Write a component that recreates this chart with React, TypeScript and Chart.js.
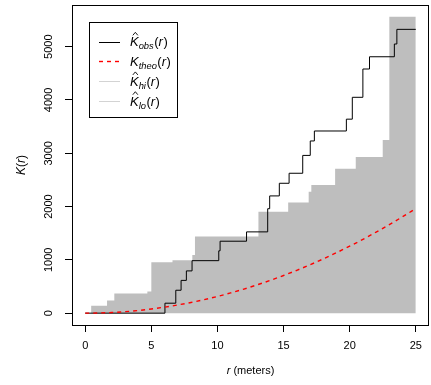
import React, { useEffect, useRef } from 'react';
import { Chart, registerables } from 'chart.js';
Chart.register(...registerables);

const FONT = '"Liberation Sans", Arial, Helvetica, sans-serif';

// observed K-hat (step function: r where value changes, new value)
const obsR = [0, 6.03, 6.85, 7.25, 7.65, 8.08, 10.1, 10.2, 12.2, 13.8, 13.95, 14.68, 15.42, 16.45, 17.02, 17.33, 19.75, 20.2, 21.0, 21.5, 23.38, 23.57, 25];
const obsK = [0, 187, 430, 615, 793, 985, 1170, 1350, 1525, 1960, 2200, 2437, 2625, 2960, 3231, 3418, 3640, 4050, 4581, 4811, 5050, 5325, 5325];

// upper envelope
const hiR = [0, 0.45, 1.65, 2.2, 4.7, 5.0, 6.6, 8.1, 8.3, 13.1, 15.35, 16.9, 17.1, 18.9, 20.46, 22.5, 23.0, 25];
const hiK = [0, 137, 236, 368, 405, 956, 994, 1090, 1440, 1905, 2078, 2280, 2406, 2710, 2930, 3249, 5560, 5560];

// lower envelope
const loR = [0, 25];
const loK = [0, 0];

// theoretical K
const theoR = [0, 1, 2, 3, 4, 5, 6, 7, 8, 9, 10, 11, 12, 13, 14, 15, 16, 17, 18, 19, 20, 21, 22, 23, 24, 25];
const theoK = [0, 3, 13, 28, 50, 79, 113, 154, 201, 254, 314, 380, 452, 531, 616, 707, 804, 908, 1018, 1134, 1257, 1385, 1521, 1662, 1810, 1963];

const xTicks = [0, 5, 10, 15, 20, 25];
const yTicks = [0, 1000, 2000, 3000, 4000, 5000];
const xRange = [-1, 26];
const yRange = [-222, 5782];

const legendMain = ['K', 'K', 'K', 'K'];
const legendSub = ['obs', 'theo', 'hi', 'lo'];
const legendHat = [true, false, true, true];
const legendColor = ['#000000', '#ff0000', '#d3d3d3', '#d3d3d3'];
const legendDash = [[], [4, 4], [], []];

const xTitle = '(meters)';
const xTitleVar = 'r';

const toPts = (xs: number[], ys: number[]) => xs.map((x, i) => ({ x, y: ys[i] }));

function drawMathK(ctx: CanvasRenderingContext2D, x: number, yMid: number, main: string, sub: string, hat: boolean, size: number) {
  const base = yMid + size * 0.36;
  ctx.textAlign = 'left';
  ctx.textBaseline = 'alphabetic';
  ctx.font = `italic ${size}px ${FONT}`;
  ctx.fillText(main, x, base);
  const kw = ctx.measureText(main).width;
  if (hat) {
    const cx = x + kw / 2 + 1;
    const top = base - size * 0.72;
    ctx.beginPath();
    ctx.lineWidth = 0.9;
    ctx.moveTo(cx - 2.5, top - 1.5);
    ctx.lineTo(cx, top - 4.5);
    ctx.lineTo(cx + 2.5, top - 1.5);
    ctx.stroke();
  }
  let cx = x + kw;
  const ss = size * 0.72;
  ctx.font = `italic ${ss}px ${FONT}`;
  ctx.fillText(sub, cx, base + size * 0.25);
  cx += ctx.measureText(sub).width + 0.5;
  ctx.font = `${size}px ${FONT}`;
  ctx.fillText('(', cx, base);
  cx += ctx.measureText('(').width;
  ctx.font = `italic ${size}px ${FONT}`;
  ctx.fillText('r', cx, base);
  cx += ctx.measureText('r').width + 0.5;
  ctx.font = `${size}px ${FONT}`;
  ctx.fillText(')', cx, base);
}

const decor = {
  id: 'decor',
  afterDraw(chart: any) {
    const ctx: CanvasRenderingContext2D = chart.ctx;
    const { left, right, top, bottom } = chart.chartArea;
    const xs = chart.scales.x;
    const ys = chart.scales.y;
    ctx.save();
    // plot box
    ctx.strokeStyle = '#000';
    ctx.lineWidth = 1;
    ctx.strokeRect(Math.round(left) + 0.5, Math.round(top) + 0.5, Math.round(right - left) - 1, Math.round(bottom - top));

    ctx.fillStyle = '#000';
    ctx.font = `11px ${FONT}`;
    ctx.textAlign = 'center';
    ctx.textBaseline = 'middle';
    xs.ticks.forEach((t: any) => {
      ctx.fillText(String(t.value), xs.getPixelForValue(t.value), bottom + 20.5);
    });
    ys.ticks.forEach((t: any) => {
      const py = ys.getPixelForValue(t.value);
      ctx.save();
      ctx.translate(49, py);
      ctx.rotate(-Math.PI / 2);
      ctx.fillText(String(t.value), 0, 0);
      ctx.restore();
    });

    // x title
    ctx.font = `italic 11px ${FONT}`;
    const wv = ctx.measureText(xTitleVar + ' ').width;
    ctx.font = `11px ${FONT}`;
    const wt = ctx.measureText(xTitle).width;
    const xc = (left + right) / 2;
    const x0 = xc - (wv + wt) / 2;
    ctx.textAlign = 'left';
    ctx.font = `italic 11px ${FONT}`;
    ctx.fillText(xTitleVar, x0, bottom + 46);
    ctx.font = `11px ${FONT}`;
    ctx.fillText(xTitle, x0 + wv, bottom + 46);

    // y title K(r)
    ctx.save();
    ctx.translate(22, (top + bottom) / 2);
    ctx.rotate(-Math.PI / 2);
    ctx.textBaseline = 'middle';
    ctx.font = `italic 12px ${FONT}`;
    const parts: [string, boolean][] = [['K', true], ['(', false], ['r', true], [')', false]];
    let tw = 0;
    parts.forEach(([s, it]) => { ctx.font = `${it ? 'italic ' : ''}12px ${FONT}`; tw += ctx.measureText(s).width; });
    let px = -tw / 2;
    parts.forEach(([s, it]) => {
      ctx.font = `${it ? 'italic ' : ''}12px ${FONT}`;
      ctx.fillText(s, px, 0);
      px += ctx.measureText(s).width;
    });
    ctx.restore();

    // legend
    const lx = 89, ly = 22, lw = 88, lh = 95;
    ctx.fillStyle = '#fff';
    ctx.fillRect(lx, ly, lw, lh);
    ctx.strokeStyle = '#000';
    ctx.lineWidth = 1;
    ctx.strokeRect(lx + 0.5, ly + 0.5, lw, lh);
    legendSub.forEach((sub, i) => {
      const y = 41.5 + i * 19.8;
      ctx.beginPath();
      ctx.strokeStyle = legendColor[i];
      ctx.lineWidth = i === 1 ? 1.4 : 1;
      ctx.setLineDash(legendDash[i]);
      ctx.moveTo(99, Math.round(y) + 0.5);
      ctx.lineTo(120, Math.round(y) + 0.5);
      ctx.stroke();
      ctx.setLineDash([]);
      ctx.fillStyle = '#000';
      ctx.strokeStyle = '#000';
      drawMathK(ctx, 130, y, legendMain[i], sub, legendHat[i], 13);
    });
    ctx.restore();
  },
};

export default function App() {
  const ref = useRef<HTMLCanvasElement | null>(null);
  useEffect(() => {
    document.body.style.margin = '0';
    const canvas = ref.current;
    if (!canvas) return;
    const chart = new Chart(canvas, {
      type: 'line',
      data: {
        datasets: [
          {
            label: 'theo',
            data: toPts(theoR, theoK),
            borderColor: '#ff0000',
            borderWidth: 1.4,
            borderDash: [4, 4],
            pointRadius: 0,
            fill: false,
            cubicInterpolationMode: 'monotone',
          },
          {
            label: 'obs',
            data: toPts(obsR, obsK),
            borderColor: '#000000',
            borderWidth: 1,
            pointRadius: 0,
            stepped: 'before',
            fill: false,
          },
          {
            label: 'hi',
            data: toPts(hiR, hiK),
            borderColor: 'rgba(0,0,0,0)',
            borderWidth: 0,
            backgroundColor: '#bebebe',
            pointRadius: 0,
            stepped: 'before',
            fill: '+1',
          },
          {
            label: 'lo',
            data: toPts(loR, loK),
            borderColor: 'rgba(0,0,0,0)',
            borderWidth: 0,
            pointRadius: 0,
            fill: false,
          },
        ],
      } as any,
      options: {
        animation: false,
        responsive: false,
        devicePixelRatio: 1,
        events: [],
        layout: { padding: { left: 0, right: 2, top: 5, bottom: 0 } },
        plugins: { legend: { display: false }, tooltip: { enabled: false } },
        scales: {
          x: {
            type: 'linear',
            min: xRange[0],
            max: xRange[1],
            afterBuildTicks: (s: any) => { s.ticks = xTicks.map((v) => ({ value: v })); },
            afterFit: (s: any) => { s.height = 60; },
            ticks: { display: false },
            border: { display: false },
            grid: { drawOnChartArea: false, drawTicks: true, tickLength: 7, color: '#000', lineWidth: 1 },
          },
          y: {
            type: 'linear',
            min: yRange[0],
            max: yRange[1],
            afterBuildTicks: (s: any) => { s.ticks = yTicks.map((v) => ({ value: v })); },
            afterFit: (s: any) => { s.width = 72; },
            ticks: { display: false },
            border: { display: false },
            grid: { drawOnChartArea: false, drawTicks: true, tickLength: 7, color: '#000', lineWidth: 1 },
          },
        },
      } as any,
      plugins: [decor],
    });
    return () => chart.destroy();
  }, []);
  return (
    <canvas ref={ref} width={431} height={385} style={{ display: 'block', width: 431, height: 385 }} />
  );
}
